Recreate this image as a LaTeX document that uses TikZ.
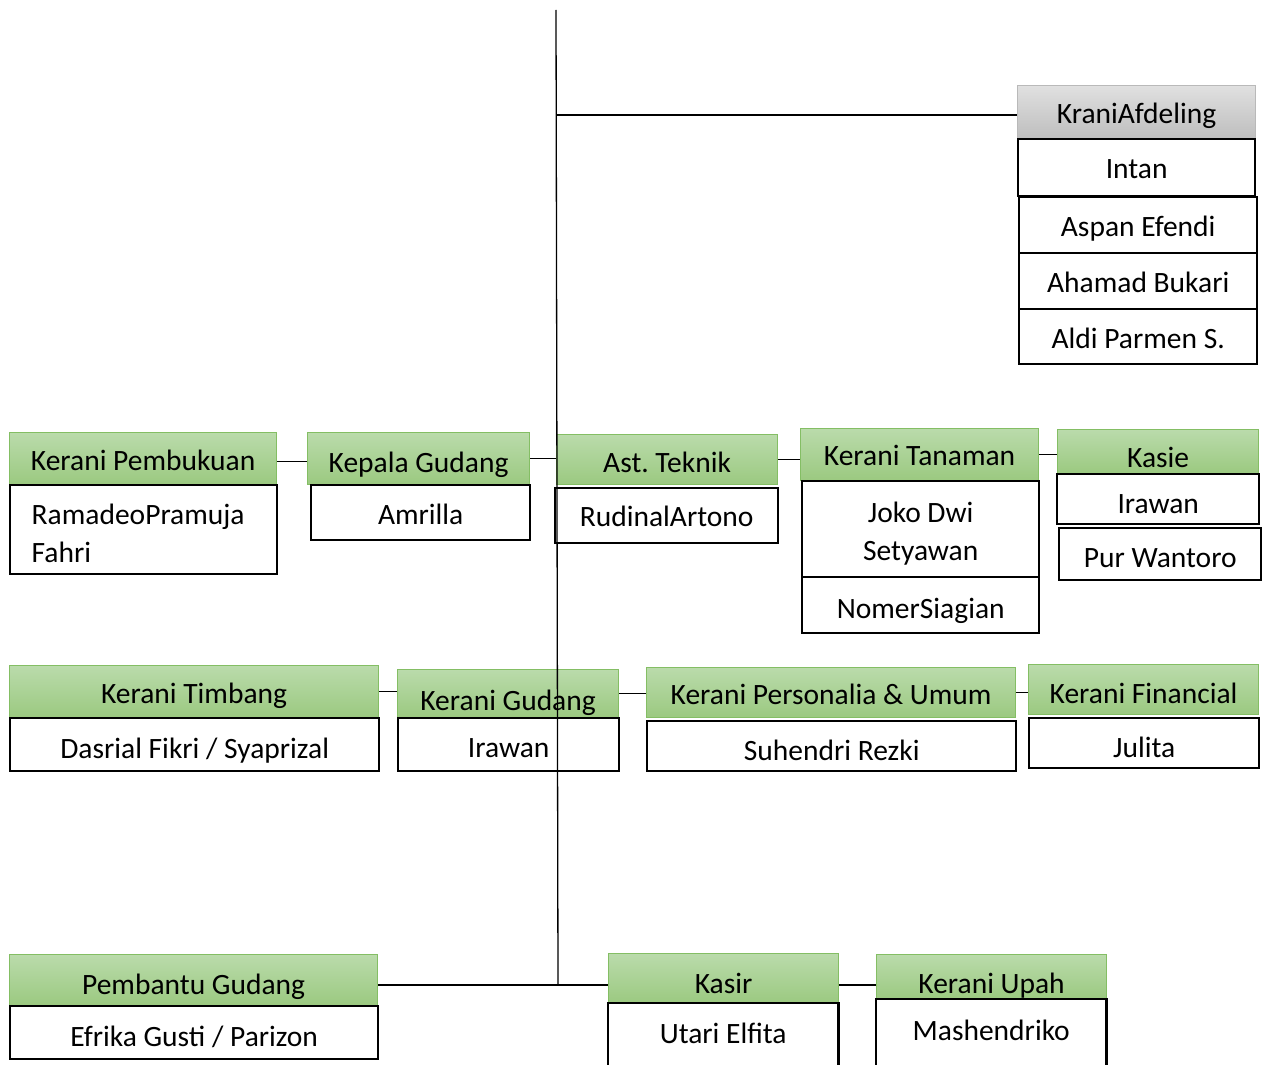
\documentclass[tikz,border=0pt]{standalone}
\usepackage{fontspec}
\setmainfont{Carlito}
\frenchspacing
\definecolor{gtop}{RGB}{186,219,171}
\definecolor{gbot}{RGB}{155,201,128}
\definecolor{gline}{RGB}{132,190,100}
\definecolor{ytop}{RGB}{224,224,224}
\definecolor{ybot}{RGB}{190,190,190}
\definecolor{yline}{RGB}{185,185,185}
\newcommand\boxfont{\fontsize{29.5}{38}\selectfont}
\begin{document}
\begin{tikzpicture}[x=1pt,y=-1pt,
  hdr/.style={draw=gline, line width=1.2pt, top color=gtop, bottom color=gbot, inner sep=0pt, font=\boxfont, anchor=north west, text=black, text height=#1, text depth=4pt},
  hdr/.default=26pt,
  ghdr/.style={hdr=#1, draw=yline, top color=ytop, bottom color=ybot},
  ghdr/.default=26pt,
  body/.style={draw=black, line width=2.4pt, fill=white, inner sep=0pt, font=\boxfont, anchor=north west, text height=#1, text depth=2pt},
  body/.default=28pt,
  multibody/.style={draw=black, line width=2.4pt, fill=white, inner sep=0pt, anchor=north west},
  btext/.style={font=\boxfont, inner sep=0pt},
  openbody/.style={fill=white, inner sep=0pt, font=\boxfont, anchor=north west, text height=#1, text depth=2pt},
  conn/.style={draw=black, line width=1.3pt}]
\useasboundingbox (0,0) rectangle (1269,1065);
% top right
\node[ghdr=26pt, minimum width=238, minimum height=53] (ka) at (1017,85) {KraniAfdeling};
\node[body=24pt, minimum width=237, minimum height=57] (intan) at (1017,138) {Intan};
\node[body=24pt, minimum width=238, minimum height=56] (aspan) at (1018,196) {Aspan Efendi};
\node[body=24pt, minimum width=238, minimum height=56] (ahamad) at (1018,252) {Ahamad Bukari};
\node[body=26pt, minimum width=238, minimum height=55] (aldi) at (1018,308) {Aldi Parmen S.};
% row 1
\node[hdr=28pt, minimum width=267, minimum height=52] (kp) at (9,432) {Kerani Pembukuan};
\node[multibody, minimum width=267, minimum height=89] (kpb) at (9,484) {};
\node[btext, text width=226, align=left] (kpbt) at ([xshift=1pt,yshift=-4pt]kpb.center) {RamadeoPramuja\\Fahri};
\node[hdr=32pt, minimum width=222, minimum height=52] (kg) at (307,432) {Kepala Gudang};
\node[body=26pt, minimum width=219, minimum height=55] (kgb) at (310,484) {Amrilla};
\node[hdr=30pt, minimum width=221, minimum height=50] (at) at (556,434) {Ast. Teknik};
\node[body=24pt, minimum width=223, minimum height=55] (atb) at (554,487) {RudinalArtono};
\node[hdr=26pt, minimum width=238, minimum height=52] (kt) at (800,428) {Kerani Tanaman};
\node[multibody, minimum width=237, minimum height=96] (ktb) at (801,480) {};
\node[btext, align=center] (ktbt) at ([yshift=-4pt]ktb.center) {Joko Dwi\\Setyawan};
\node[body=28pt, minimum width=237, minimum height=56] (ktc) at (801,576) {NomerSiagian};
\node[hdr=36pt, minimum width=201, minimum height=44] (ks) at (1057,429) {Kasie};
\node[body=30pt, minimum width=202, minimum height=50] (ksb) at (1056,473) {Irawan};
\node[body=28pt, minimum width=202, minimum height=52] (ksc) at (1058,527) {Pur Wantoro};
% row 2
\node[hdr=28pt, minimum width=369, minimum height=52] (tb) at (9,665) {Kerani Timbang};
\node[body=30pt, minimum width=369, minimum height=53] (tbb) at (9,717) {Dasrial Fikri / Syaprizal};
\node[hdr=37pt, minimum width=221, minimum height=48] (gd) at (397,669) {Kerani Gudang};
\node[body=28pt, minimum width=221, minimum height=53] (gdb) at (397,717) {Irawan};
\node[hdr=28pt, minimum width=369, minimum height=50] (pu) at (646,667) {Kerani Personalia \& Umum};
\node[body=30pt, minimum width=369, minimum height=50] (pub) at (646,720) {Suhendri Rezki};
\node[hdr=32pt, minimum width=230, minimum height=50] (fn) at (1028,664) {Kerani Financial};
\node[body=30pt, minimum width=230, minimum height=50] (fnb) at (1028,717) {Julita};
% row 3
\node[hdr=33pt, minimum width=368, minimum height=51] (pg) at (9,954) {Pembantu Gudang};
\node[body=30pt, minimum width=368, minimum height=53] (pgb) at (9,1005) {Efrika Gusti / Parizon};
\node[hdr=34pt, minimum width=230, minimum height=50] (ksr) at (608,953) {Kasir};
\node[openbody=21pt, minimum width=230, minimum height=62] (ksrb) at (608,1003) {Utari Elfita};
\draw[line width=2.4pt] (ksrb.south west) -- (ksrb.north west) -- (ksrb.north east) -- (ksrb.south east);
\node[hdr=37pt, minimum width=230, minimum height=45] (ku) at (876,954) {Kerani Upah};
\node[openbody=19pt, minimum width=230, minimum height=66] (kub) at (876,999) {Mashendriko};
\draw[line width=2.4pt] (kub.south west) -- (kub.north west) -- (kub.north east) -- (kub.south east);
% connectors
\coordinate (top) at (556,10);
\coordinate (arm) at (556,115);
\coordinate (bot) at (558,985);
\draw[conn] ([yshift=-3pt]kp.east) -- ([yshift=-3pt]kp.east -| kg.west);
\draw[conn] (kg.east) -- (kg.east -| at.west);
\draw[conn] (at.east) -- (at.east -| kt.west);
\draw[conn] (kt.east) -- (kt.east -| ks.west);
\draw[conn] (tb.east) -- (tb.east -| gd.west);
\draw[conn] (gd.east) -- (gd.east -| pu.west);
\draw[conn] (pu.east) -- (pu.east -| fn.west);
\draw[conn] (arm) -- (arm -| ka.west);
\draw[conn] (pg.east |- bot) -- (bot) -- (ksr.west |- bot);
\draw[conn] (ksr.east |- bot) -- (ku.west |- bot);
\draw[conn] (top) -- (bot);
\end{tikzpicture}
\end{document}
